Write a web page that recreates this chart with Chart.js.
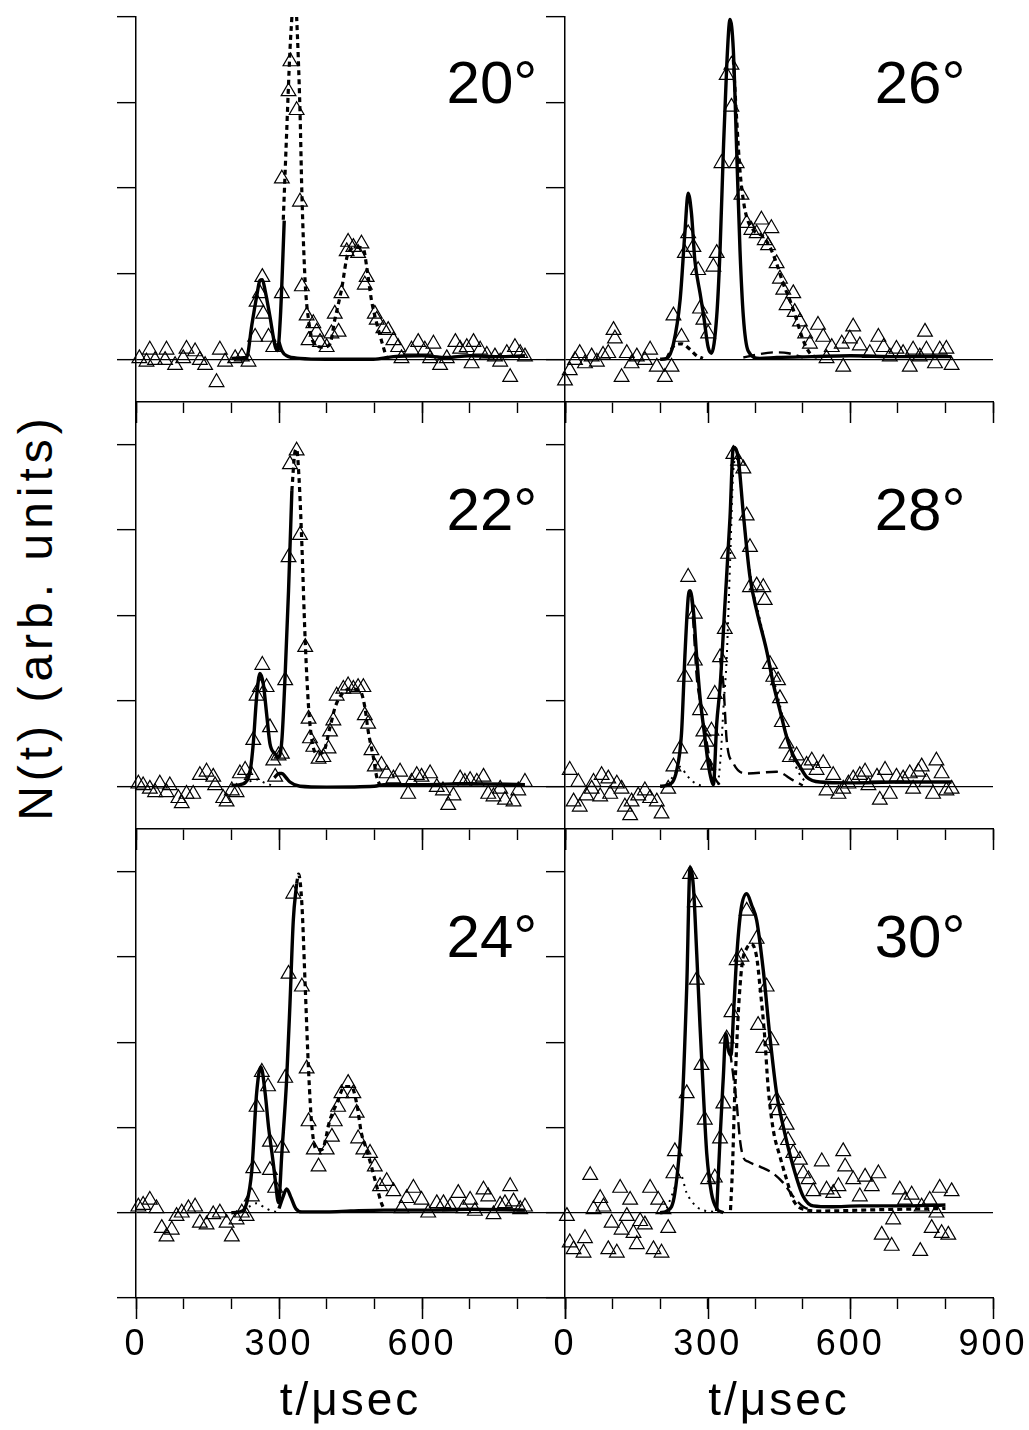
<!DOCTYPE html>
<html>
<head>
<meta charset="utf-8">
<script src="https://cdn.jsdelivr.net/npm/chart.js@4.4.1/dist/chart.umd.min.js"></script>
<style>
  html, body { margin: 0; padding: 0; background: #fff; }
  #page { position: relative; width: 1029px; height: 1430px; overflow: hidden; background: #fff; }
  #page canvas { position: absolute; }
  #ylabel {
    position: absolute; left: 35px; top: 617px;
    transform: translate(-50%, -50%) rotate(-90deg);
    font: 48px "Liberation Sans", Arial, sans-serif; letter-spacing: 5px;
    white-space: nowrap; color: #000;
  }
</style>
</head>
<body>
<div id="page">
  <div id="ylabel">N(t) (arb. units)</div>
</div>
<script>
// axes
const xTickValues = [0, 100, 200, 300, 400, 500, 600, 700, 800, 900];
const xMajorTicks = [0, 300, 600, 900];
const yTickValues = [-1, 0, 1, 2, 3, 4];
const xTitle = 't/μsec';
const angleLabels = ['20°', '26°', '22°', '28°', '24°', '30°'];
const angleLabelPos = [842, 3.0]; // t, N of the label's right/baseline
const yRanges = [[-0.5, 4], [-0.5, 4.5], [-1, 4.5]];

// 20°  measured points [t, N]
const tri20 = [[7,0.01],[22,-0.03],[29,0.11],[40,-0.01],[61,-0.01],[64,0.11],[82,-0.07],[99,0.01],[106,0.12],[124,0.09],[134,-0.01],[145,-0.07],[169,-0.27],[176,0.11],[187,-0.03],[208,0.01],[222,0.03],[236,-0.03],[250,0.26],[253,0.67],[260,0.77],[265,0.96],[267,0.53],[278,0.26],[288,0.14],[306,0.77],[306,2.11],[320,3.13],[324,3.48],[337,2.91],[344,1.84],[348,0.85],[358,0.51],[362,0.22],[372,0.42],[379,0.32],[386,0.2],[400,0.14],[410,0.3],[417,0.53],[425,0.32],[431,0.77],[442,1.26],[445,1.37],[456,1.31],[466,1.24],[473,1.35],[480,0.87],[484,0.96],[501,0.53],[505,0.46],[519,0.36],[529,0.34],[540,0.22],[550,0.14],[557,0.01],[578,0.11],[592,0.2],[606,0.11],[617,0.01],[624,0.18],[638,-0.07],[652,0.01],[670,0.2],[680,0.12],[694,0.14],[704,-0.05],[708,0.2],[722,0.11],[736,0.05],[753,0.03],[764,-0.03],[778,0.07],[785,-0.21],[795,0.14],[806,0.07],[816,0.03]];
const solid20a = [[200,0.01],[232,0.02],[243,0.4],[253,0.73],[260,0.92],[265,0.93],[271,0.8],[281,0.5],[292,0.15],[297,0.1],[303,0.5],[311,1.62]];
const solid20b = [[300,0.2],[306,0.1],[316,0.04],[344,0.01],[400,0.0],[498,0.0],[540,0.03],[600,0.04],[650,0.02],[700,0.04],[760,0.03],[816,0.04]];
const dashed20 = [[309,1.63],[316,2.64],[323,3.61],[327,4.0],[332,4.5],[337,4.0],[344,2.91],[348,1.94],[355,0.89],[362,0.46],[372,0.2],[393,0.14],[407,0.18],[417,0.46],[431,0.81],[445,1.24],[463,1.31],[477,1.29],[484,1.08],[494,0.69],[505,0.42],[519,0.14],[526,0.01]];

// 26°
const tri26 = [[0,-0.25],[10,-0.13],[21,-0.01],[31,0.07],[42,-0.05],[56,0.03],[67,-0.03],[80,0.05],[91,0.07],[102,0.34],[105,0.24],[119,-0.21],[130,0.07],[140,-0.05],[151,0.03],[168,-0.01],[179,0.11],[193,-0.09],[210,-0.21],[224,-0.09],[228,0.51],[245,0.26],[252,1.24],[259,1.47],[270,1.31],[280,1.04],[284,0.59],[291,0.46],[301,0.3],[312,1.08],[319,1.24],[329,2.29],[340,3.32],[350,3.44],[350,2.95],[361,2.29],[371,1.92],[382,1.59],[392,1.51],[403,1.47],[413,1.63],[420,1.39],[427,1.33],[434,1.53],[445,1.12],[452,0.94],[459,0.81],[466,0.63],[480,0.77],[483,0.55],[494,0.44],[505,0.3],[515,0.18],[532,0.4],[543,0.26],[550,0.01],[561,0.14],[582,0.18],[585,-0.09],[599,0.24],[606,0.38],[620,0.16],[641,0.07],[659,0.26],[670,0.14],[683,0.03],[697,0.12],[711,0.07],[725,-0.09],[732,0.11],[746,0.03],[757,0.32],[760,0.11],[778,-0.05],[788,0.11],[802,0.12],[813,-0.07]];
const solid26 = [[200,0.0],[214,0.01],[228,0.18],[242,0.69],[252,1.47],[259,1.94],[266,1.7],[273,1.16],[284,0.77],[291,0.53],[301,0.14],[308,0.07],[319,0.5],[326,1.27],[333,2.44],[340,3.42],[347,3.97],[354,3.61],[361,2.44],[368,1.27],[375,0.5],[385,0.1],[410,0.01],[445,0.02],[520,0.03],[600,0.04],[700,0.03],[813,0.03]];
const dashed26 = [[354,3.5],[361,2.8],[368,2.2],[375,1.86],[382,1.66],[396,1.51],[417,1.43],[431,1.31],[445,1.12],[459,0.88],[473,0.69],[487,0.46],[501,0.22],[515,0.07],[530,0.02]];
const dotted26 = [[215,0.02],[228,0.15],[245,0.18],[262,0.12],[277,0.04],[290,0.01]];
const long26 = [[375,0.02],[400,0.05],[440,0.08],[470,0.07],[500,0.02]];

// 22°
const tri22 = [[5,0.03],[15,0.01],[29,-0.03],[40,-0.07],[50,0.03],[64,-0.07],[71,0.01],[89,-0.14],[96,-0.2],[106,-0.09],[120,-0.09],[134,0.13],[148,0.17],[162,0.11],[166,0.01],[183,-0.14],[190,-0.18],[201,-0.05],[211,-0.07],[218,0.15],[229,0.19],[243,0.13],[246,0.54],[253,1.06],[260,1.16],[265,1.42],[274,1.16],[281,0.69],[288,0.3],[292,0.11],[299,0.36],[306,0.38],[313,1.24],[320,2.68],[323,3.77],[337,3.93],[344,2.94],[355,1.63],[362,0.79],[365,0.56],[372,0.46],[383,0.32],[393,0.34],[404,0.44],[407,0.64],[414,0.77],[421,1.06],[435,1.14],[445,1.18],[456,1.14],[466,1.16],[477,1.16],[480,0.83],[487,0.73],[494,0.42],[501,0.23],[515,0.25],[526,0.15],[540,0.09],[554,0.17],[571,-0.09],[578,0.05],[589,0.13],[599,0.11],[617,0.15],[631,-0.01],[644,-0.05],[655,-0.22],[666,-0.11],[680,0.09],[690,0.05],[701,0.07],[715,0.05],[729,0.11],[739,-0.09],[750,-0.12],[764,-0.03],[774,-0.16],[792,-0.18],[802,-0.05],[816,0.05]];
const solid22a = [[200,0.01],[225,0.03],[240,0.2],[246,0.5],[253,1.04],[260,1.32],[267,1.2],[274,0.85],[281,0.5],[292,0.38],[299,0.34],[306,0.54],[313,1.32],[320,2.29],[327,3.46]];
const solid22b = [[290,0.1],[300,0.15],[306,0.15],[315,0.1],[323,0.05],[344,0.0],[400,-0.01],[500,0.0],[520,0.02],[600,0.02],[700,0.03],[816,0.02]];
const dashed22 = [[327,3.46],[333,3.9],[337,3.95],[342,3.61],[347,2.98],[355,1.7],[362,0.93],[369,0.54],[379,0.38],[393,0.4],[407,0.69],[418,0.93],[432,1.08],[449,1.14],[470,1.12],[480,0.93],[487,0.65],[498,0.34],[505,0.11],[512,0.01]];
const dotted22 = [[225,0.02],[240,0.06],[255,0.08],[270,0.04],[285,0.01]];

// 28°
const tri28 = [[10,0.19],[18,-0.18],[28,0.05],[31,-0.24],[45,-0.11],[56,-0.03],[60,0.05],[74,-0.12],[77,0.13],[91,0.09],[95,-0.09],[109,0.03],[119,-0.03],[126,-0.24],[137,-0.34],[140,-0.18],[154,-0.11],[168,-0.05],[179,-0.14],[193,-0.18],[203,-0.32],[217,-0.03],[228,0.23],[242,0.44],[252,1.28],[259,2.45],[273,2.02],[273,1.47],[284,0.89],[291,0.64],[298,0.52],[301,0.25],[308,0.65],[315,1.08],[326,1.51],[336,1.84],[343,2.72],[354,3.89],[364,3.81],[375,3.72],[382,3.17],[389,2.8],[389,2.33],[403,2.35],[417,2.33],[420,2.18],[431,1.43],[438,1.28],[448,1.24],[452,1.03],[456,0.75],[466,0.5],[473,0.34],[487,0.36],[508,0.25],[519,0.3],[529,0.19],[543,0.27],[550,-0.05],[564,0.13],[575,-0.09],[585,-0.03],[596,0.03],[606,0.09],[620,0.13],[631,0.17],[638,0.01],[656,0.11],[662,-0.16],[673,0.19],[683,-0.09],[697,0.11],[711,0.09],[725,0.15],[732,-0.03],[743,0.17],[750,0.23],[760,0.05],[774,-0.09],[781,0.3],[792,0.15],[802,-0.05],[813,-0.03]];
const solid28 = [[200,0.0],[214,0.01],[235,0.19],[245,0.62],[252,1.51],[259,2.21],[263,2.29],[270,2.06],[277,1.51],[284,1.04],[294,0.58],[301,0.27],[308,0.07],[312,0.02],[319,0.73],[326,1.16],[336,2.1],[347,3.15],[354,3.97],[364,3.85],[375,3.19],[389,2.45],[403,2.06],[424,1.59],[438,1.2],[452,0.89],[466,0.58],[480,0.36],[494,0.23],[508,0.11],[536,0.05],[600,0.04],[700,0.05],[813,0.05]];
const dashed28 = [[322,0.02],[328,0.4],[333,0.9],[340,1.5],[347,2.6],[354,3.7],[360,3.85],[368,3.6],[378,3.0],[392,2.4],[410,1.95],[430,1.45],[452,0.95],[470,0.5],[488,0.2],[505,0.05]];
const long28a = [[266,2.2],[270,1.9],[277,1.28],[284,1.0],[294,0.65],[305,0.3],[315,0.1],[325,0.02]];
const long28b = [[326,1.5],[333,1.2],[340,0.54],[354,0.27],[382,0.15],[445,0.17],[480,0.07],[500,0.01]];
const dotted28 = [[215,0.02],[228,0.12],[242,0.23],[256,0.13],[270,0.05],[290,0.0]];

// 24°
const tri24 = [[5,0.07],[15,0.09],[29,0.15],[43,0.05],[54,-0.18],[64,-0.28],[75,-0.2],[85,-0.04],[96,0.0],[110,0.05],[124,0.07],[134,-0.12],[148,-0.14],[162,-0.02],[176,0.0],[190,-0.12],[201,-0.28],[211,-0.08],[222,0.0],[232,-0.04],[243,0.19],[246,0.52],[253,1.24],[264,1.65],[277,1.48],[281,0.83],[281,0.5],[292,0.29],[306,0.76],[313,1.58],[320,2.8],[330,3.74],[348,2.65],[358,1.69],[362,1.07],[373,0.74],[383,0.54],[400,0.74],[411,0.89],[417,1.07],[424,1.24],[431,1.4],[445,1.52],[456,1.4],[463,1.17],[466,0.87],[477,0.74],[491,0.7],[501,0.54],[512,0.31],[526,0.37],[540,0.25],[557,0.05],[568,0.17],[582,0.29],[599,0.15],[613,0.0],[631,0.11],[645,0.11],[659,0.07],[676,0.23],[687,0.05],[701,0.15],[711,0.02],[729,0.27],[739,0.19],[750,-0.02],[764,0.09],[774,0.11],[785,0.31],[792,0.13],[806,0.04],[816,0.07]];
const solid24a = [[200,0.0],[218,0.01],[232,0.11],[243,0.5],[253,1.4],[262,1.71],[271,1.4],[278,1.01],[288,0.58],[292,0.39],[299,0.12],[306,0.7],[316,1.56],[323,2.45],[330,3.43],[337,3.86]];
const solid24b = [[300,0.05],[308,0.18],[316,0.28],[325,0.18],[335,0.05],[348,0.01],[400,0.01],[450,0.02],[520,0.03],[600,0.03],[700,0.04],[816,0.03]];
const dashed24 = [[337,3.86],[341,3.97],[348,3.62],[355,2.65],[362,1.67],[369,1.01],[379,0.74],[390,0.74],[407,1.09],[421,1.28],[438,1.48],[452,1.48],[463,1.28],[473,0.93],[484,0.74],[494,0.54],[505,0.31],[515,0.11],[522,0.03]];
const dotted24 = [[225,0.02],[240,0.08],[253,0.11],[270,0.06],[285,0.02],[295,0.01]];

// 30°
const tri30 = [[4,-0.04],[10,-0.35],[18,-0.43],[39,-0.47],[42,-0.3],[53,0.44],[60,0.04],[74,0.17],[81,0.07],[91,-0.43],[98,-0.12],[109,-0.47],[116,0.29],[119,-0.2],[130,-0.04],[137,0.15],[144,-0.24],[151,-0.37],[158,-0.1],[168,-0.14],[179,0.29],[186,-0.43],[196,0.15],[203,-0.47],[207,0.04],[217,-0.18],[228,0.46],[231,0.72],[256,1.4],[263,3.97],[273,3.64],[277,2.73],[287,1.73],[294,1.09],[301,0.39],[315,0.41],[326,0.87],[333,1.28],[340,2.04],[350,2.35],[361,2.96],[371,3.0],[382,3.54],[403,3.21],[406,2.2],[417,1.93],[424,2.65],[434,2.02],[445,1.32],[449,1.2],[466,1.03],[469,0.85],[480,0.7],[494,0.62],[501,0.46],[512,0.39],[522,0.25],[540,0.6],[550,0.27],[564,0.23],[575,0.31],[585,0.72],[589,0.54],[606,0.39],[620,0.19],[631,0.42],[645,0.31],[659,0.46],[666,-0.26],[687,-0.39],[690,-0.08],[704,0.27],[715,0.15],[729,0.21],[747,-0.45],[750,0.07],[767,0.15],[771,-0.18],[781,0.0],[788,0.29],[792,-0.24],[806,-0.26],[813,0.25]];
const solid30a = [[200,0.0],[214,0.02],[231,0.23],[245,1.09],[256,2.65],[263,4.05],[270,3.82],[277,3.04],[284,2.18],[291,1.4],[298,0.7],[308,0.23],[319,0.05],[333,0.0]];
const solid30b = [[319,0.02],[326,0.87],[333,1.6],[338,2.1],[344,1.9],[349,1.85],[355,2.4],[361,3.0],[370,3.55],[382,3.74],[393,3.6],[403,3.43],[417,2.84],[431,2.06],[445,1.4],[459,1.01],[480,0.54],[501,0.19],[522,0.08],[560,0.07],[620,0.08],[700,0.08],[800,0.09]];
const dashed30 = [[348,0.03],[352,0.5],[357,1.4],[364,2.3],[372,2.9],[382,3.1],[392,3.15],[403,3.0],[410,2.65],[420,2.06],[427,1.48],[438,0.97],[452,0.66],[466,0.39],[480,0.15],[501,0.04],[540,0.02],[620,0.03],[700,0.04],[800,0.05]];
const long30 = [[347,1.9],[354,1.6],[361,1.28],[368,0.85],[375,0.65],[385,0.6],[410,0.54],[438,0.46],[459,0.35],[480,0.19],[501,0.07],[520,0.03]];
const dotted30 = [[214,0.05],[228,0.25],[242,0.46],[256,0.23],[277,0.07],[298,0.02],[330,0.01]];

// line looks
const styles = {
    solid:  { w: 3.4, dash: [] },
    dashed: { w: 3.2, dash: [5, 4] },
    long:   { w: 2.4, dash: [12, 6] },
    dotted: { w: 2, dash: [2, 5] }
};

// panel order: row by row, left then right
const panels = [
    { row: 0, col: 0, tri: tri20, lines: [[solid20a, 'solid'], [solid20b, 'solid'], [dashed20, 'dashed']] },
    { row: 0, col: 1, tri: tri26, lines: [[solid26, 'solid'], [dashed26, 'dashed'], [dotted26, 'dashed'], [long26, 'long']] },
    { row: 1, col: 0, tri: tri22, lines: [[solid22a, 'solid'], [solid22b, 'solid'], [dashed22, 'dashed'], [dotted22, 'dotted']] },
    { row: 1, col: 1, tri: tri28, lines: [[solid28, 'solid'], [dashed28, 'dotted'], [long28a, 'long'], [long28b, 'long'], [dotted28, 'dotted']] },
    { row: 2, col: 0, tri: tri24, lines: [[solid24a, 'solid'], [solid24b, 'solid'], [dashed24, 'dashed'], [dotted24, 'dotted']] },
    { row: 2, col: 1, tri: tri30, lines: [[solid30a, 'solid'], [solid30b, 'solid'], [dashed30, 'dashed'], [long30, 'long'], [dotted30, 'dotted']] }
];

// page geometry of the plot areas
const colEdges = [[136, 565], [565, 993]];
const rowEdges = [[17, 402], [402, 829], [829, 1298]];
const AXIS_W = 28, PAD_TOP = 12, PAD_RIGHT = 52;
const FONT = '"Liberation Sans", Arial, sans-serif';

// long ticks at 0/300/600/900 and the angle label
const panelDecor = {
    id: 'panelDecor',
    beforeDraw(chart) {
        chart.ctx.letterSpacing = '3px';
    },
    afterDraw(chart, args, opts) {
        const { ctx, scales: { x, y } } = chart;
        ctx.save();
        ctx.strokeStyle = '#000';
        ctx.lineWidth = 1.5;
        xMajorTicks.forEach(v => {
            const px = Math.round(x.getPixelForValue(v)) + 0.5;
            ctx.beginPath();
            ctx.moveTo(px, x.top);
            ctx.lineTo(px, x.top + 21);
            ctx.stroke();
        });
        ctx.letterSpacing = '0px';
        ctx.fillStyle = '#000';
        ctx.font = '60px ' + FONT;
        ctx.textAlign = 'right';
        ctx.textBaseline = 'alphabetic';
        ctx.fillText(opts.label, x.getPixelForValue(angleLabelPos[0]), y.getPixelForValue(angleLabelPos[1]));
        ctx.restore();
    }
};

const page = document.getElementById('page');

panels.forEach((p, i) => {
    const [l, r] = colEdges[p.col];
    const [t, b] = rowEdges[p.row];
    const bottomRow = p.row === 2;
    const axisH = bottomRow ? 1430 - b : 24;
    const w = r - l + AXIS_W + PAD_RIGHT;
    const h = b - t + PAD_TOP + axisH;

    const canvas = document.createElement('canvas');
    canvas.width = w;
    canvas.height = h;
    canvas.style.left = (l - AXIS_W) + 'px';
    canvas.style.top = (t - PAD_TOP) + 'px';
    canvas.style.width = w + 'px';
    canvas.style.height = h + 'px';
    page.appendChild(canvas);

    const datasets = [{
        data: p.tri.map(([x, y]) => ({ x, y })),
        showLine: false,
        pointStyle: 'triangle',
        pointRadius: 8.5,
        pointBorderWidth: 1.2,
        pointBorderColor: '#000',
        pointBackgroundColor: 'rgba(0,0,0,0)',
        clip: false,
        order: 2
    }];
    p.lines.forEach(([arr, kind]) => {
        datasets.push({
            data: arr.map(([x, y]) => ({ x, y })),
            showLine: true,
            borderColor: '#000',
            borderWidth: styles[kind].w,
            borderDash: styles[kind].dash,
            pointRadius: 0,
            cubicInterpolationMode: 'monotone',
            fill: false,
            order: 1
        });
    });

    const showLabels = bottomRow;
    const rightCol = p.col === 1;

    new Chart(canvas.getContext('2d'), {
        type: 'scatter',
        data: { datasets },
        plugins: [panelDecor],
        options: {
            responsive: false,
            animation: false,
            devicePixelRatio: 1,
            layout: { padding: { top: PAD_TOP, right: PAD_RIGHT, left: 0, bottom: 0 } },
            events: [],
            plugins: {
                legend: { display: false },
                tooltip: { enabled: false },
                panelDecor: { label: angleLabels[i] }
            },
            scales: {
                x: {
                    type: 'linear',
                    min: 0,
                    max: 900,
                    afterBuildTicks: s => { s.ticks = xTickValues.map(v => ({ value: v })); },
                    afterFit: s => { s.height = axisH; },
                    ticks: {
                        display: showLabels,
                        autoSkip: false,
                        maxRotation: 0,
                        padding: 14,
                        color: '#000',
                        font: { family: FONT, size: 36 },
                        callback: v => (xMajorTicks.includes(v) && (v !== 900 || rightCol)) ? String(v) : ''
                    },
                    grid: { drawOnChartArea: false, drawTicks: true, tickLength: 11, tickColor: '#000', tickWidth: 1.4 },
                    border: { display: true, color: '#000', width: 1.5 },
                    title: {
                        display: showLabels,
                        text: xTitle,
                        color: '#000',
                        font: { family: FONT, size: 46 },
                        padding: { top: 0, bottom: 0 }
                    }
                },
                y: {
                    type: 'linear',
                    min: yRanges[p.row][0],
                    max: yRanges[p.row][1],
                    afterBuildTicks: s => {
                        s.ticks = yTickValues.filter(v => v >= s.min && v <= s.max).map(v => ({ value: v }));
                    },
                    afterFit: s => { s.width = AXIS_W; },
                    ticks: { display: false },
                    grid: {
                        drawOnChartArea: true,
                        drawTicks: true,
                        tickLength: 19,
                        tickColor: '#000',
                        tickWidth: 1.4,
                        lineWidth: 1.3,
                        color: c => (c.tick && c.tick.value === 0) ? '#000' : 'rgba(0,0,0,0)'
                    },
                    border: { display: true, color: '#000', width: 1.5 }
                }
            }
        }
    });
});
</script>
</body>
</html>
